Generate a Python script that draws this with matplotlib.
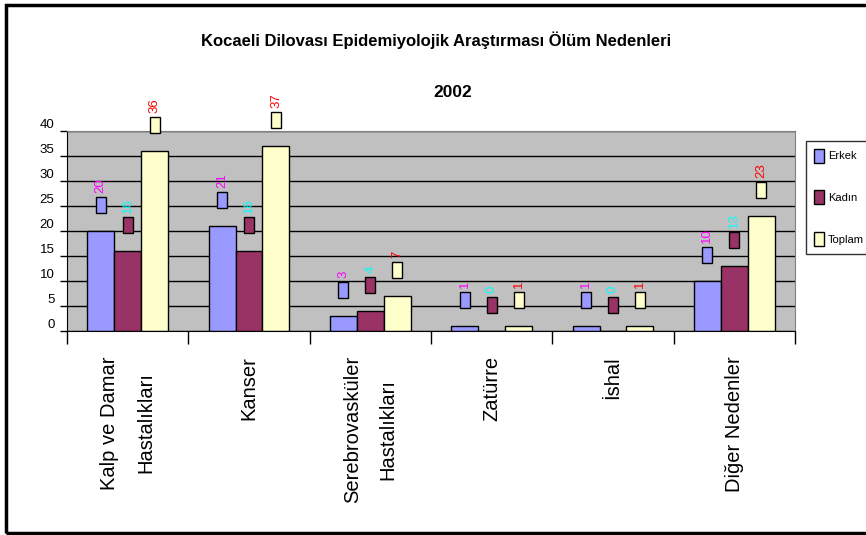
import matplotlib
matplotlib.use('Agg')
import matplotlib.pyplot as plt
from matplotlib.patches import Rectangle
import numpy as np

categories = ['Kalp ve Damar\nHastalıkları', 'Kanser', 'Serebrovasküler\nHastalıkları',
              'Zatürre', 'İshal', 'Diğer Nedenler']
series_names = ['Erkek', 'Kadın', 'Toplam']
erkek = [20, 21, 3, 1, 1, 10]
kadin = [16, 16, 4, 0, 0, 13]
toplam = [36, 37, 7, 1, 1, 23]
y_ticks = [0, 5, 10, 15, 20, 25, 30, 35, 40]

bar_colors = ['#9999FF', '#993366', '#FFFFCC']
label_colors = ['#FF00FF', '#00FFFF', '#FF0000']

plt.rcParams['font.family'] = ['Liberation Sans', 'DejaVu Sans']

W, H = 866, 535
fig = plt.figure(figsize=(W / 100, H / 100), dpi=100)
ax = fig.add_axes([67 / W, 1 - 331 / H, (795 - 67) / W, 200 / H])
ax.set_facecolor('#C0C0C0')

x = np.arange(len(categories)) + 0.5
bw = 27 / 121.5
box_w = 10 / 121.5
for i, (vals, name) in enumerate(zip([erkek, kadin, toplam], series_names)):
    pos = x + (i - 1) * bw
    ax.bar(pos, vals, width=bw, color=bar_colors[i], edgecolor='black',
           linewidth=1, label=name, zorder=2)
    # excel-like data labels: small legend key + rotated value
    for px, v in zip(pos, vals):
        ax.add_patch(Rectangle((px - box_w / 2, v + 3.6), box_w, 3.2,
                               facecolor=bar_colors[i], edgecolor='black',
                               linewidth=1, zorder=3, clip_on=False))
        ax.text(px, v + 7.6, str(v), rotation=90, ha='center', va='bottom',
                color=label_colors[i], fontsize=9.5, zorder=3, clip_on=False)

ax.set_xlim(0, len(categories))
ax.set_ylim(0, 40)
ax.set_yticks(y_ticks)
ax.set_yticklabels([str(t) for t in y_ticks], va='bottom', fontsize=9.5)
ax.tick_params(axis='y', length=5, width=1, pad=4, colors='black')
ax.grid(axis='y', color='black', linewidth=1)
ax.set_axisbelow(True)

ax.set_xticks(x)
ax.set_xticklabels(categories, rotation=90, va='top', ha='center',
                   multialignment='center', fontsize=14.5, linespacing=2.1)
ax.set_xticks(np.arange(len(categories) + 1), minor=True)
ax.tick_params(axis='x', which='major', length=0, pad=18)
ax.tick_params(axis='x', which='minor', length=9, width=1, color='black')

for s in ['top', 'right']:
    ax.spines[s].set_color('#808080')
for s in ['left', 'bottom']:
    ax.spines[s].set_color('black')

fig.text(436 / W, 1 - 40 / H, 'Kocaeli Dilovası Epidemiyolojik Araştırması Ölüm Nedenleri',
         ha='center', va='center', fontsize=12, fontweight='bold')
fig.text(453 / W, 1 - 92 / H, '2002', ha='center', va='center',
         fontsize=12.5, fontweight='bold')

leg = fig.legend(loc='upper left', bbox_to_anchor=(806 / W, 1 - 141 / H),
                 frameon=True, fancybox=False, fontsize=8,
                 handlelength=0.95, handleheight=1.55, labelspacing=2.5,
                 handletextpad=0.35, borderpad=0.7, borderaxespad=0)
leg.get_frame().set_edgecolor('black')
leg.get_frame().set_linewidth(1)

# outer chart frame
fig.patches.append(Rectangle((6 / W, 2 / H), 1.0, 1 - 7 / H, transform=fig.transFigure,
                             fill=False, edgecolor='black', linewidth=2.5))

fig.savefig('out.png', dpi=100)
